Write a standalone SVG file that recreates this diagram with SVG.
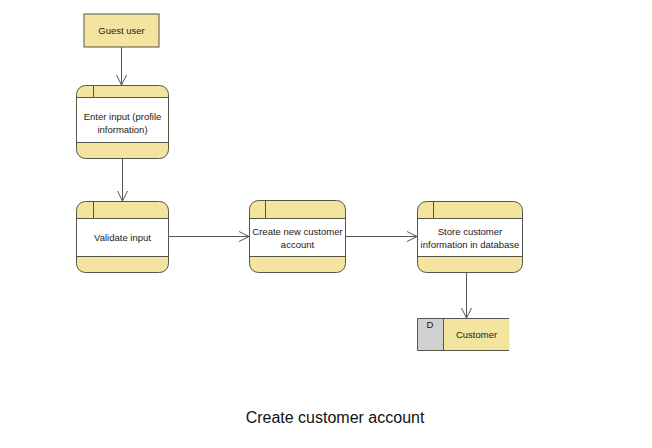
<svg xmlns="http://www.w3.org/2000/svg" width="652" height="448" viewBox="0 0 652 448">
<defs>
<style>
.fill{fill:#F3E5A0}
.ln{stroke:#555548;stroke-width:1;fill:none}
.txt{font-family:"Liberation Sans",Arial,sans-serif;font-size:9.5px;fill:#1a1a1a;text-anchor:middle}
.title{font-family:"Liberation Sans",Arial,sans-serif;font-size:16px;fill:#111;text-anchor:middle}
.conn{stroke:#555;stroke-width:1;fill:none}
</style>
<marker id="arr" markerWidth="12" markerHeight="12" refX="10" refY="6" orient="auto" markerUnits="userSpaceOnUse">
<path d="M0,1 L10,6 L0,11" fill="none" stroke="#555" stroke-width="1"/>
</marker>
</defs>
<rect width="652" height="448" fill="#fff"/>

<g id="guest-user">
<rect x="84" y="14" width="75" height="33" class="fill" stroke="#555548"/>
<text x="121.5" y="34" class="txt">Guest user</text>
</g>

<g id="enter-input">
<rect x="76.5" y="85.5" width="92" height="73" rx="9" class="fill" stroke="#555548"/>
<rect x="77" y="97.5" width="91" height="45" fill="#fff"/>
<line x1="76.5" y1="97.5" x2="168.5" y2="97.5" class="ln"/>
<line x1="76.5" y1="142.5" x2="168.5" y2="142.5" class="ln"/>
<line x1="93.5" y1="85.5" x2="93.5" y2="97.5" class="ln"/>
<text x="122.5" y="120" class="txt">Enter input (profile</text>
<text x="122.5" y="133" class="txt">information)</text>
</g>

<g id="validate-input">
<rect x="76.5" y="201.5" width="92" height="71" rx="9" class="fill" stroke="#555548"/>
<rect x="77" y="218.5" width="91" height="38" fill="#fff"/>
<line x1="76.5" y1="218.5" x2="168.5" y2="218.5" class="ln"/>
<line x1="76.5" y1="256.5" x2="168.5" y2="256.5" class="ln"/>
<line x1="93.5" y1="201.5" x2="93.5" y2="218.5" class="ln"/>
<text x="122.5" y="241" class="txt">Validate input</text>
</g>

<g id="create-account">
<rect x="249.5" y="200.5" width="96" height="72" rx="9" class="fill" stroke="#555548"/>
<rect x="250" y="218.5" width="95" height="38" fill="#fff"/>
<line x1="249.5" y1="218.5" x2="345.5" y2="218.5" class="ln"/>
<line x1="249.5" y1="256.5" x2="345.5" y2="256.5" class="ln"/>
<line x1="265.5" y1="200.5" x2="265.5" y2="218.5" class="ln"/>
<text x="297.5" y="235" class="txt">Create new customer</text>
<text x="297.5" y="247.5" class="txt">account</text>
</g>

<g id="store-customer">
<rect x="417.5" y="201.5" width="105" height="71" rx="9" class="fill" stroke="#555548"/>
<rect x="418" y="218.5" width="104" height="38" fill="#fff"/>
<line x1="417.5" y1="218.5" x2="522.5" y2="218.5" class="ln"/>
<line x1="417.5" y1="256.5" x2="522.5" y2="256.5" class="ln"/>
<line x1="433.5" y1="201.5" x2="433.5" y2="218.5" class="ln"/>
<text x="470" y="235" class="txt">Store customer</text>
<text x="470" y="247.5" class="txt">information in database</text>
</g>

<g id="customer-store">
<rect x="417.5" y="318.5" width="26" height="32" fill="#D0D0D0"/>
<rect x="443.5" y="318.5" width="66" height="32" class="fill"/>
<path d="M509,318.5 H417.5 V350.5 H509" class="ln"/>
<line x1="443.5" y1="318.5" x2="443.5" y2="350.5" class="ln"/>
<text x="430" y="328" class="txt">D</text>
<text x="476.5" y="338" class="txt">Customer</text>
</g>

<g id="connectors">
<line x1="121.5" y1="47" x2="121.5" y2="85" class="conn" marker-end="url(#arr)"/>
<line x1="122.5" y1="159" x2="122.5" y2="201" class="conn" marker-end="url(#arr)"/>
<line x1="169" y1="236.5" x2="249" y2="236.5" class="conn" marker-end="url(#arr)"/>
<line x1="346" y1="236.5" x2="417" y2="236.5" class="conn" marker-end="url(#arr)"/>
<line x1="466.5" y1="273" x2="466.5" y2="318" class="conn" marker-end="url(#arr)"/>
</g>

<text x="335" y="423" class="title">Create customer account</text>
</svg>
